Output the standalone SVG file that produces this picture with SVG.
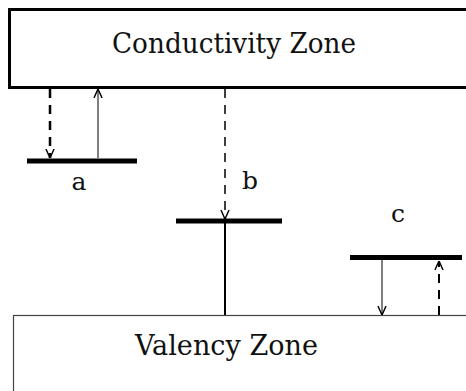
<svg xmlns="http://www.w3.org/2000/svg" width="466" height="391" viewBox="0 0 466 391">
<style>
.zt{font-family:"DejaVu Serif","Liberation Serif",serif;font-size:27px;fill:#111}
.lb{font-family:"DejaVu Serif","Liberation Serif",serif;font-size:25px;fill:#111}
.lvl{stroke:#000;stroke-width:5}
.c{stroke:#000;fill:none}
.d{stroke-dasharray:9,7}
</style>
<defs>
<marker id="ah" viewBox="0 0 10 10" refX="10" refY="5" markerWidth="9" markerHeight="10" markerUnits="userSpaceOnUse" orient="auto">
<path d="M0,0.5 L10,5 L0,9.5" fill="none" stroke="#000" stroke-width="1.6"/>
</marker>
</defs>
<rect width="466" height="391" fill="#fff"/>
<g id="conductivity">
<rect x="9.5" y="9.5" width="470" height="78" fill="#fff" stroke="#000" stroke-width="3"/>
<text class="zt" x="112" y="53" textLength="244" lengthAdjust="spacingAndGlyphs">Conductivity Zone</text>
</g>
<g id="valency">
<rect x="13.5" y="315.5" width="470" height="90" fill="#fff" stroke="#444" stroke-width="1.2"/>
<text class="zt" x="135" y="355" textLength="183" lengthAdjust="spacingAndGlyphs">Valency Zone</text>
</g>
<g id="level-a">
<line class="lvl" x1="27" y1="161" x2="137" y2="161"/>
<text class="lb" x="79" y="190" text-anchor="middle">a</text>
</g>
<g id="level-b">
<line class="lvl" x1="176" y1="221" x2="282" y2="221" stroke-width="4"/>
<text class="lb" x="250" y="189" text-anchor="middle">b</text>
</g>
<g id="level-c">
<line class="lvl" x1="350" y1="257.5" x2="462" y2="257.5" stroke-width="6"/>
<text class="lb" x="398" y="222" text-anchor="middle">c</text>
</g>
<g id="connectors">
<line class="c d" x1="50" y1="89" x2="50" y2="158" stroke-width="2.5" marker-end="url(#ah)"/>
<line class="c" x1="98" y1="158" x2="98" y2="89" stroke-width="1" marker-end="url(#ah)"/>
<line class="c d" x1="225" y1="89" x2="225" y2="219" stroke-width="1.5" marker-end="url(#ah)"/>
<line class="c" x1="225" y1="221" x2="225" y2="315" stroke-width="2"/>
<line class="c" x1="382" y1="260" x2="382" y2="315" stroke-width="1" marker-end="url(#ah)"/>
<line class="c d" x1="439" y1="315" x2="439" y2="261" stroke-width="2" marker-end="url(#ah)"/>
</g>
</svg>
